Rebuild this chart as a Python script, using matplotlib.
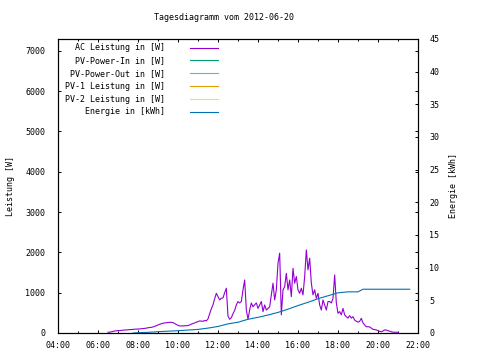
import matplotlib
matplotlib.use('Agg')
import matplotlib.pyplot as plt
import matplotlib.dates as mdates
import pandas as pd

# AC power [W], 5-minute samples starting 06:30
ac_start = '2012-06-20 06:30'
ac_leistung = [
    20, 20, 30, 40, 50, 55, 60, 60, 65, 70, 75, 75,            # 06:30
    80, 85, 85, 90, 95, 95, 100, 100, 105, 110, 115, 120,     # 07:30
    130, 135, 140, 150, 165, 180, 200, 215, 230, 240, 250, 255,  # 08:30
    260, 265, 265, 255, 235, 210, 190, 175, 175, 175, 180, 180,  # 09:30
    185, 200, 220, 235, 250, 270, 280, 300, 295, 290, 310, 300,  # 10:30
    350, 480, 600, 700, 850, 985, 900, 820, 860, 870, 1000, 1110,  # 11:30
    420, 340, 380, 480, 560, 700, 780, 745, 780, 1070, 1315, 570,  # 12:30
    340, 570, 745, 650, 700, 745, 610, 695, 780, 530, 695, 570,  # 13:30
    610, 650, 945, 1235, 820, 1070, 1730, 1980, 450, 1070, 1150, 1480,  # 14:30
    1070, 1315, 900, 1605, 1235, 1400, 1070, 985, 1110, 945, 1400, 2060,  # 15:30
    1565, 1855, 1235, 945, 1070, 860, 985, 695, 570, 820, 695, 570,  # 16:30
    780, 780, 745, 860, 1440, 745, 490, 530, 450, 610, 450, 405,  # 17:30
    370, 430, 370, 405, 320, 290, 270, 290, 365, 250, 200, 155,  # 18:30
    155, 150, 120, 90, 85, 75, 60, 40, 30, 50, 75, 75,          # 19:30
    55, 45, 30, 20, 20, 20, 15,                                  # 20:30
]

# cumulative energy [kWh]
energie_zeit = ['07:45', '08:00', '08:30', '09:00', '09:30', '10:00', '10:30',
                '11:00', '11:30', '12:00', '12:30', '13:00', '13:30', '14:00',
                '14:30', '15:00', '15:30', '16:00', '16:30', '17:00', '17:30',
                '18:00', '18:30', '19:00', '19:15', '20:00', '21:00', '21:35']
energie = [0.0, 0.05, 0.1, 0.2, 0.28, 0.35, 0.45,
           0.55, 0.75, 1.0, 1.4, 1.65, 2.1, 2.4,
           2.75, 3.15, 3.65, 4.2, 4.7, 5.25, 5.7,
           6.15, 6.3, 6.3, 6.7, 6.7, 6.7, 6.7]

# series without data on this day
pv_power_in = []
pv_power_out = []
pv1_leistung = []
pv2_leistung = []

labels = ['AC Leistung in [W]', 'PV-Power-In in [W]', 'PV-Power-Out in [W]',
          'PV-1 Leistung in [W]', 'PV-2 Leistung in [W]', 'Energie in [kWh]']
colors = ['#9400d3', '#009e73', '#56b4e9', '#e69f00', '#f0e442', '#0072b2']

font = 'DejaVu Sans Mono'
plt.rcParams['font.family'] = font
plt.rcParams['font.size'] = 6

day = '2012-06-20'
t_ac = pd.date_range(ac_start, periods=len(ac_leistung), freq='5min')
t_en = pd.to_datetime([day + ' ' + s for s in energie_zeit])

fig = plt.figure(figsize=(4.8, 3.6), dpi=100)
ax = fig.add_axes([58/480, 27/360, 360/480, 294/360])
ax2 = ax.twinx()

ax.plot(t_ac, ac_leistung, color=colors[0], lw=0.8)
for vals, c in zip([pv_power_in, pv_power_out, pv1_leistung, pv2_leistung], colors[1:5]):
    ax.plot(t_ac[:len(vals)], vals, color=c, lw=0.8)
ax2.plot(t_en, energie, color=colors[5], lw=0.8)

ax.set_xlim(pd.Timestamp(day + ' 04:00'), pd.Timestamp(day + ' 22:00'))
ax.set_ylim(0, 7290)
ax2.set_ylim(0, 45)
ax.set_yticks(range(0, 7001, 1000))
ax2.set_yticks(range(0, 46, 5))

ax.xaxis.set_major_locator(mdates.HourLocator(byhour=range(0, 24, 2)))
ax.xaxis.set_minor_locator(mdates.HourLocator())
ax.xaxis.set_major_formatter(mdates.DateFormatter('%H:%M'))

ax.tick_params(which='major', direction='in', length=2.4, width=0.7,
               top=True, right=True)
ax.tick_params(which='minor', direction='in', length=1.2, width=0.7,
               top=True)
ax.tick_params(axis='y', pad=9)
ax.tick_params(axis='x', pad=6)
ax2.tick_params(direction='in', length=2.4, width=0.7, pad=8)

for a in (ax, ax2):
    for s in a.spines.values():
        s.set_linewidth(0.8)

ax.set_ylabel('Leistung [W]')
ax2.set_ylabel('Energie [kWh]', rotation=90)
ax.yaxis.set_label_coords(-0.12, 0.5)
ax2.yaxis.set_label_coords(1.085, 0.5)

fig.text(223.5/480, 1 - 18/360, 'Tagesdiagramm vom 2012-06-20',
         ha='center', va='center')

# key, text right aligned with sample line to its right
for i, (lab, c) in enumerate(zip(labels, colors)):
    y = 1 - (8.5 + i * 12.9) / 294
    ax.text((165 - 58) / 360, y, lab, transform=ax.transAxes,
            ha='right', va='center')
    ax.plot([(190 - 58) / 360, (218 - 58) / 360], [y, y], transform=ax.transAxes,
            color=c, lw=0.8)

fig.savefig('out.png', dpi=100)
